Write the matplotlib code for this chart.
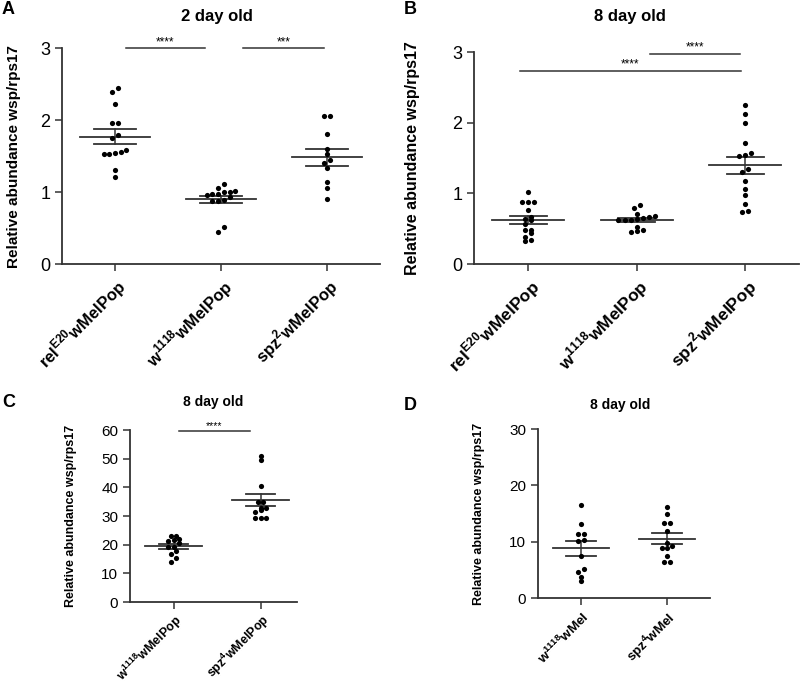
import numpy as np
import matplotlib
matplotlib.use("Agg")
import matplotlib.pyplot as plt

plt.rcParams['font.family'] = ['Liberation Sans', 'DejaVu Sans']
plt.rcParams['mathtext.fontset'] = 'custom'
plt.rcParams['mathtext.rm'] = 'Liberation Sans'
plt.rcParams['mathtext.bf'] = 'Liberation Sans:bold'

# ---- data ----
# A: 2 day old
a_labels = [r"rel$^{\mathbf{E20}}$wMelPop", r"w$^{\mathbf{1118}}$wMelPop", r"spz$^{\mathbf{2}}$wMelPop"]
a_rel = [2.44, 2.39, 2.22, 1.96, 1.96, 1.79, 1.75, 1.59, 1.53, 1.53, 1.54, 1.55, 1.31, 1.21]
a_w1118 = [1.11, 1.00, 0.98, 0.96, 0.93, 1.05, 1.00, 1.01, 0.97, 0.88, 0.87, 0.89, 0.45, 0.51]
a_spz = [2.05, 2.05, 1.80, 1.60, 1.53, 1.44, 1.41, 1.33, 1.14, 1.05, 0.90]

# B: 8 day old
b_labels = a_labels
b_rel = [1.02, 0.88, 0.88, 0.88, 0.77, 0.64, 0.57, 0.62, 0.66, 0.48, 0.44, 0.48, 0.39, 0.34, 0.32]
b_w1118 = [0.80, 0.84, 0.71, 0.67, 0.64, 0.62, 0.62, 0.62, 0.65, 0.68, 0.53, 0.48, 0.46, 0.47]
b_spz = [2.25, 2.12, 2.00, 1.72, 1.54, 1.53, 1.57, 1.35, 1.30, 1.18, 1.07, 0.98, 0.85, 0.74, 0.75]

# C: 8 day old, wMelPop
c_labels = [r"w$^{\mathbf{1118}}$wMelPop", r"spz$^{\mathbf{4}}$wMelPop"]
c_w1118 = [22.9, 21.5, 20.5, 21.4, 21.9, 23.0, 19.2, 19.2, 17.7, 16.6, 15.2, 14.1]
c_spz = [49.5, 51.0, 40.6, 34.9, 34.9, 32.9, 32.2, 31.5, 32.7, 29.5, 29.5, 29.5]

# D: 8 day old, wMel
d_labels = [r"w$^{\mathbf{1118}}$wMel", r"spz$^{\mathbf{4}}$wMel"]
d_w1118 = [16.6, 13.1, 11.3, 11.4, 10.3, 10.1, 7.5, 5.2, 4.6, 3.8, 3.1]
d_spz = [16.2, 14.9, 13.3, 13.3, 11.9, 9.8, 9.3, 8.9, 8.9, 7.5, 6.4, 6.4]

LINE = '#333333'


def swarm(vals, dx, tol):
    # put points with close values side by side, like prism does
    vals = np.asarray(vals)
    order = np.argsort(vals)
    offs = np.zeros(len(vals))
    groups = []
    cur = [order[0]]
    for i in order[1:]:
        if vals[i] - vals[cur[0]] < tol:
            cur.append(i)
        else:
            groups.append(cur)
            cur = [i]
    groups.append(cur)
    for g in groups:
        n = len(g)
        for k, i in enumerate(g):
            offs[i] = (k - (n - 1) / 2) * dx
    return offs


def dot_panel(ax, groups, labels, ylim, yticks, xlim, dx, fs_tick, fs_lab, sem_w=0.18, pad=3):
    for i, vals in enumerate(groups):
        vals = np.asarray(vals)
        offs = swarm(vals, dx, (ylim[1] - ylim[0]) * 0.022)
        ax.scatter(i + offs, vals, s=14, color='black', zorder=3, linewidths=0)
        m = vals.mean()
        se = vals.std(ddof=1) / np.sqrt(len(vals))
        ax.plot([i - 0.33, i + 0.33], [m, m], color=LINE, lw=1.3, zorder=2)
        ax.plot([i - sem_w, i + sem_w], [m + se, m + se], color=LINE, lw=1.3, zorder=2)
        ax.plot([i - sem_w, i + sem_w], [m - se, m - se], color=LINE, lw=1.3, zorder=2)
        ax.plot([i, i], [m - se, m + se], color=LINE, lw=1.1, zorder=2)
    ax.set_xlim(*xlim)
    ax.set_ylim(*ylim)
    ax.set_yticks(yticks)
    ax.set_xticks(range(len(groups)))
    ax.set_xticklabels(labels, rotation=45, ha='right', rotation_mode='anchor',
                       fontweight='bold', fontsize=fs_lab)
    ax.tick_params(axis='y', labelsize=fs_tick, direction='out', length=5, width=1.1, color=LINE)
    ax.tick_params(axis='x', direction='out', length=5, width=1.1, color=LINE, pad=pad)
    for s in ['top', 'right']:
        ax.spines[s].set_visible(False)
    for s in ['left', 'bottom']:
        ax.spines[s].set_color(LINE)
        ax.spines[s].set_linewidth(1.3)


def sig(ax, x0, x1, y, txt, fs, dy):
    ax.plot([x0, x1], [y, y], color=LINE, lw=1.1, clip_on=False)
    ax.text((x0 + x1) / 2, y + dy, txt, ha='center', va='bottom', fontsize=fs, clip_on=False)


fig = plt.figure(figsize=(8, 6.86), dpi=100)

axA = fig.add_axes([0.0775, 0.615, 0.3975, 0.315])
axB = fig.add_axes([0.5925, 0.615, 0.4068, 0.309])
axC = fig.add_axes([0.1625, 0.1224, 0.2088, 0.2506])
axD = fig.add_axes([0.6725, 0.128, 0.215, 0.2466])

dot_panel(axA, [a_rel, a_w1118, a_spz], a_labels, (0, 3), [0, 1, 2, 3], (-0.5, 2.5), 0.054, 13, 12, 0.2)
dot_panel(axB, [b_rel, b_w1118, b_spz], b_labels, (0, 3), [0, 1, 2, 3], (-0.5, 2.5), 0.056, 13, 12.5, 0.17)
dot_panel(axC, [c_w1118, c_spz], c_labels, (0, 60), range(0, 61, 10), (-0.5, 1.42), 0.06, 11, 9.0, 0.17, pad=2)
dot_panel(axD, [d_w1118, d_spz], d_labels, (0, 30), [0, 10, 20, 30], (-0.5, 1.5), 0.06, 11, 9.6, 0.17)

sig(axA, 0.1, 0.85, 3.0, '****', 8.5, 0.0)
sig(axA, 1.21, 1.97, 3.0, '***', 8.5, 0.0)
sig(axB, 1.12, 1.95, 2.98, '****', 8.5, 0.0)
sig(axB, -0.08, 1.96, 2.74, '****', 8.5, 0.0)
sig(axC, 0.06, 0.88, 59.6, '****', 7.5, 0.0)

# ylabel anchor is the right edge of the rotated text
ylab = 'Relative abundance wsp/rps17'
for ax, fs, lx in [(axA, 11, -0.13), (axB, 11.5, -0.165), (axC, 9, -0.32), (axD, 9, -0.31)]:
    ax.set_ylabel(ylab, fontweight='bold', fontsize=fs)
    ax.yaxis.set_label_coords(lx, 0.5)

# titles and panel letters in figure coords
fig.text(217 / 800, 1 - 16 / 686, '2 day old', ha='center', va='center', fontweight='bold', fontsize=12)
fig.text(630 / 800, 1 - 16 / 686, '8 day old', ha='center', va='center', fontweight='bold', fontsize=12)
fig.text(213 / 800, 1 - 402 / 686, '8 day old', ha='center', va='center', fontweight='bold', fontsize=10)
fig.text(620 / 800, 1 - 405 / 686, '8 day old', ha='center', va='center', fontweight='bold', fontsize=10)

for x, y, t in [(2, 10, 'A'), (404, 10, 'B'), (2, 403, 'C'), (404, 405, 'D')]:
    fig.text(x / 800, 1 - y / 686, t, ha='left', va='center', fontweight='bold', fontsize=13)

fig.savefig('out.png', dpi=100)
